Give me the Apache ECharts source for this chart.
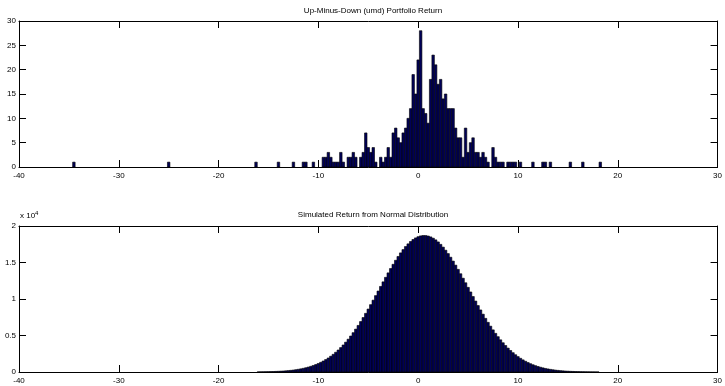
<!DOCTYPE html>
<html><head><meta charset="utf-8">
<script src="https://cdn.jsdelivr.net/npm/echarts@6/dist/echarts.min.js"></script>
<style>html,body{margin:0;padding:0;background:#fff}#c{width:725px;height:386px}</style>
</head><body><div id="c"></div>
<script>
// ---- data ----
const xTicks = [-40, -30, -20, -10, 0, 10, 20, 30];
const topTitle = "Up-Minus-Down (umd) Portfolio Return";
const bottomTitle = "Simulated Return from Normal Distribution";
const binWidth = 0.25;
const umdCenters = [-34.5,-25,-16.25,-14,-12.5,-11.5,-11.25,-10.5,
 -9.5,-9.25,-9,-8.75,-8.5,-8.25,-8,-7.75,-7.5,-7,-6.75,-6.5,-6.25,-5.75,-5.5,-5.25,-5,-4.75,-4.5,-4.25,
 -3.75,-3.5,-3.25,-3,-2.75,-2.5,-2.25,-2,-1.75,-1.5,-1.25,-1,-0.75,-0.5,-0.25,0,0.25,0.5,0.75,1,1.25,1.5,
 1.75,2,2.25,2.5,2.75,3,3.25,3.5,3.75,4,4.25,4.5,4.75,5,5.25,5.5,5.75,6,6.25,6.5,6.75,7,7.5,7.75,8,8.25,
 8.5,9,9.25,9.5,9.75,10.25,11.5,12.5,12.75,13.25,15.25,16.5,18.25];
const umdCounts = [1,1,1,1,1,1,1,1,
 2,2,3,2,1,1,1,3,1,2,2,3,2,2,3,7,4,3,4,1,
 2,1,2,4,2,7,8,6,5,7,8,10,12,19,15,22,28,12,11,9,18,23,
 21,17,18,14,15,12,12,12,8,6,6,2,8,3,5,6,3,3,2,3,2,1,4,2,1,1,
 1,1,1,1,1,1,1,1,1,1,1,1,1];
const simStart = -16;   // centre of first bin
const simCounts = [21,25,31,38,46,56,67,81,97,116,138,164,194,229,270,317,371,433,503,584,
 675,777,893,1022,1167,1328,1506,1704,1921,2160,2420,2704,3012,3345,3701,4086,4494,4926,5386,5870,
 6379,6910,7461,8034,8621,9225,9838,10463,11091,11721,12348,12968,13578,14175,14751,15302,15826,16316,16770,17185,
 17554,17877,18150,18369,18535,18644,18695,18690,18626,18506,18330,18100,17818,17484,17105,16683,16221,15723,15192,14636,
 14057,13458,12845,12222,11594,10964,10337,9715,9103,8501,7918,7349,6801,6276,5771,5292,4838,4408,4006,3628,
 3274,2947,2644,2366,2109,1876,1662,1470,1294,1137,995,868,755,655,567,488,420,360,307,262,
 222,188,159,133,112,93,78,65,54,44,36,30,24,20,16,13,11];
const topYTicks = [0,5,10,15,20,25,30];
const botYTicks = [0,0.5,1,1.5,2];
const botScale = 10000;

// ---- chart ----
const font = 'Liberation Sans, Arial, sans-serif';
const umdData = umdCenters.map((c,i)=>[c, umdCounts[i]]);
const simData = simCounts.map((v,i)=>[simStart + i*binWidth, v]);

function histRender(params, api){
  const c = api.value(0), v = api.value(1);
  const p0 = api.coord([c - binWidth/2, v]);
  const p1 = api.coord([c + binWidth/2, 0]);
  return {type:'rect', shape:{x:p0[0], y:p0[1], width:p1[0]-p0[0], height:p1[1]-p0[1]},
    style:{fill:'#000058', stroke:'#000', lineWidth:0.6}};
}
const lbl = {color:'#000', fontSize:8, fontFamily:font};
function xAxes(gi){
  const base = {type:'value', gridIndex:gi, min:-40, max:30, interval:10,
    axisLine:{show:true, onZero:false, lineStyle:{color:'#000', width:1}},
    axisTick:{show:true, inside:true, length:7, lineStyle:{color:'#000'}},
    splitLine:{show:false}};
  return [Object.assign({position:'bottom', axisLabel:Object.assign({margin:5}, lbl)}, base),
          Object.assign({position:'top', axisLabel:{show:false}}, base)];
}
function yAxes(gi, max, interval, fmt){
  const base = {type:'value', gridIndex:gi, min:0, max:max, interval:interval,
    axisLine:{show:true, onZero:false, lineStyle:{color:'#000', width:1}},
    axisTick:{show:true, inside:true, length:7, lineStyle:{color:'#000'}},
    splitLine:{show:false}};
  return [Object.assign({position:'left', axisLabel:Object.assign({margin:3, formatter:fmt}, lbl)}, base),
          Object.assign({position:'right', axisLabel:{show:false}}, base)];
}
const chart = echarts.init(document.getElementById('c'), null, {renderer:'canvas'});
chart.setOption({
  animation:false,
  backgroundColor:'#fff',
  title:[
    {text:topTitle, left:368, top:2, textAlign:'center', textStyle:{fontSize:8, fontWeight:'normal', color:'#000', fontFamily:font}},
    {text:bottomTitle, left:368, top:206, textAlign:'center', textStyle:{fontSize:8, fontWeight:'normal', color:'#000', fontFamily:font}}
  ],
  graphic:[{type:'text', left:20, top:210, style:{text:'x 10{s|4}', fill:'#000', fontSize:8, fontFamily:font,
    rich:{s:{fontSize:6, verticalAlign:'top', padding:[0,0,6,0]}}}}],
  grid:[{left:19, right:6, top:21, height:146}, {left:19, right:6, top:226, height:146}],
  xAxis: xAxes(0).concat(xAxes(1)),
  yAxis: yAxes(0, 30, 5, v=>String(v)).concat(yAxes(1, 2*botScale, 0.5*botScale, v=>String(v/botScale))),
  series:[
    {type:'custom', xAxisIndex:0, yAxisIndex:0, renderItem:histRender, data:umdData, encode:{x:0,y:1}},
    {type:'custom', xAxisIndex:2, yAxisIndex:2, renderItem:histRender, data:simData, encode:{x:0,y:1}}
  ]
});
</script></body></html>
